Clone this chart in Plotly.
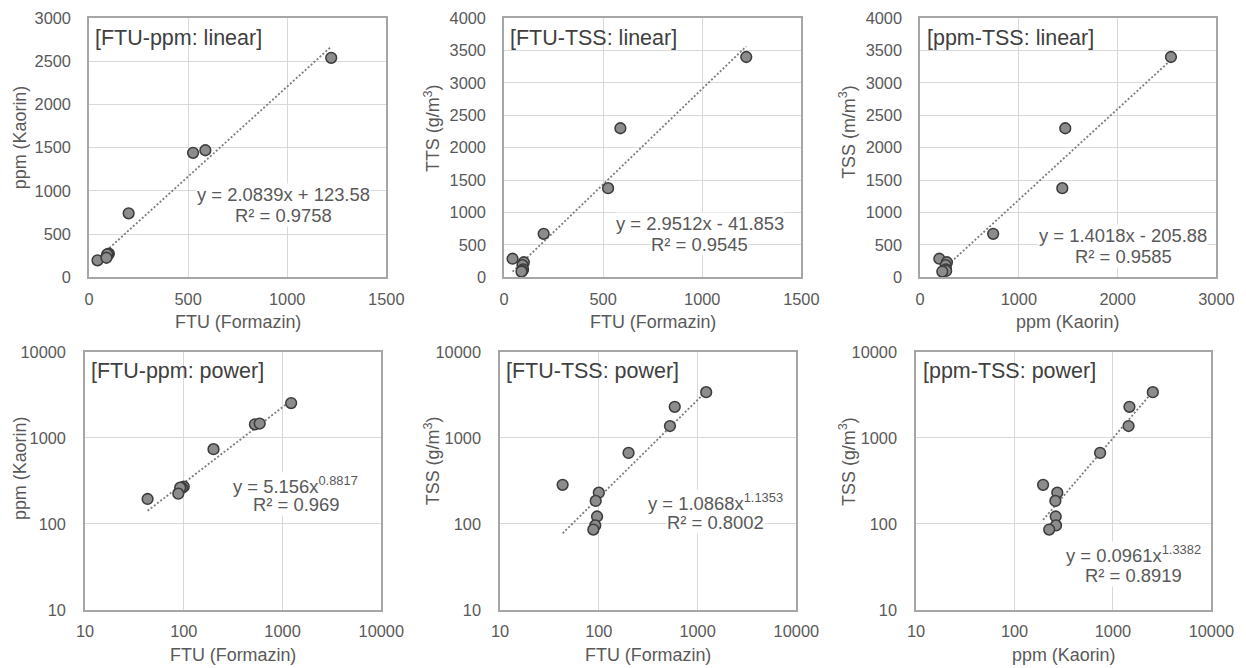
import plotly.graph_objects as go
from plotly.subplots import make_subplots

# ---- data ----
ftu = [43, 100, 93, 96, 92, 88, 200, 525, 587, 1222]
ppm = [195, 272, 260, 262, 264, 225, 740, 1440, 1470, 2540]
tss = [285, 231, 185, 122, 96, 86, 670, 1375, 2300, 3400]

panel_titles = ["[FTU-ppm: linear]", "[FTU-TSS: linear]", "[ppm-TSS: linear]",
                "[FTU-ppm: power]", "[FTU-TSS: power]", "[ppm-TSS: power]"]
x_titles = ["FTU (Formazin)", "FTU (Formazin)", "ppm (Kaorin)",
            "FTU (Formazin)", "FTU (Formazin)", "ppm (Kaorin)"]
y_titles = ["ppm (Kaorin)", "TTS (g/m<sup>3</sup>)", "TSS (m/m<sup>3</sup>)",
            "ppm (Kaorin)", "TSS (g/m<sup>3</sup>)", "TSS (g/m<sup>3</sup>)"]

lin_slope = [2.0839, 2.9512, 1.4018]
lin_icpt = [123.58, -41.853, -205.88]
lin_r2 = ["0.9758", "0.9545", "0.9585"]
pow_a = [5.156, 1.0868, 0.0961]
pow_b = [0.8817, 1.1353, 1.3382]
pow_r2 = ["0.969", "0.8002", "0.8919"]

lin_xmax = [1500, 1500, 3000]
lin_ymax = [3000, 4000, 4000]
lin_xdtick = [500, 500, 1000]
log_ticks = [10, 100, 1000, 10000]

pairs = [(ftu, ppm), (ftu, tss), (ppm, tss)]

# ---- layout geometry ----
# target plot-area boxes in screen px (left, right, top, bottom)
S, OFF = 0.977, 8.0
W = int(round(1246 / S - OFF))
H = int(round(668 / S - OFF))
boxes = [(88, 386, 17, 277), (504, 802, 17, 277), (921, 1218, 17, 277),
         (84, 381, 352, 611), (500, 797, 352, 611), (917, 1213, 352, 611)]


def fx(px):
    return (px / S - OFF) / W


def fy(py):
    return 1 - (py / S - OFF) / H


xdom = [[fx(b[0]), fx(b[1])] for b in boxes]
ydom = [[fy(b[3]), fy(b[2])] for b in boxes]

eq_pos = [(0.654, 0.318, 0.238), (0.659, 0.206, 0.126), (0.686, 0.1615, 0.081),
          (0.712, 0.486, 0.409), (0.727, 0.418, 0.339), (0.736, 0.216, 0.135)]
ytitle_pos = [(-0.234, 0.542), (-0.243, 0.575), (-0.245, 0.563),
              (-0.221, 0.548), (-0.23, 0.58), (-0.232, 0.576)]

K = 1 / S
FONT = "Liberation Sans, Arial, sans-serif"
TXT = "#595959"

fig = make_subplots(rows=2, cols=3)

for i in range(6):
    r, c = i // 3 + 1, i % 3 + 1
    k = i % 3
    xs, ys = pairs[k]
    tx = [min(xs), max(xs)]
    if i < 3:
        ty = [lin_slope[k] * v + lin_icpt[k] for v in tx]
    else:
        ty = [pow_a[k] * v ** pow_b[k] for v in tx]
    fig.add_trace(go.Scatter(x=tx, y=ty, mode="lines",
                             line=dict(color="#7f7f7f", width=1.8 * K, dash="2px,2px"),
                             showlegend=False, hoverinfo="skip"), row=r, col=c)
    fig.add_trace(go.Scatter(x=xs, y=ys, mode="markers",
                             marker=dict(size=10.5 * K, color="#8c8c8c",
                                         line=dict(color="#3c3c3c", width=1.5 * K)),
                             showlegend=False), row=r, col=c)

axis_common = dict(showgrid=True, gridcolor="#d9d9d9", gridwidth=1,
                   showline=True, linecolor="#a6a6a6", linewidth=1.5 * K, mirror=True,
                   ticks="", zeroline=False,
                   tickfont=dict(size=16 * K, color=TXT, family=FONT))

for i in range(6):
    r, c = i // 3 + 1, i % 3 + 1
    k = i % 3
    if i < 3:
        fig.update_xaxes(range=[0, lin_xmax[k]], dtick=lin_xdtick[k], tick0=0,
                         domain=xdom[i], ticklabelstandoff=6, **axis_common, row=r, col=c)
        fig.update_yaxes(range=[0, lin_ymax[k]], dtick=500, tick0=0,
                         domain=ydom[i], ticklabelstandoff=13, **axis_common, row=r, col=c)
    else:
        fig.update_xaxes(type="log", range=[1, 4], tickvals=log_ticks,
                         ticktext=[str(v) for v in log_ticks],
                         domain=xdom[i], ticklabelstandoff=6, **axis_common, row=r, col=c)
        fig.update_yaxes(type="log", range=[1, 4], tickvals=log_ticks,
                         ticktext=[str(v) for v in log_ticks],
                         domain=ydom[i], ticklabelstandoff=14, **axis_common, row=r, col=c)

annotations = []
for i in range(6):
    k = i % 3
    xr = "x domain" if i == 0 else f"x{i+1} domain"
    yr = "y domain" if i == 0 else f"y{i+1} domain"
    annotations.append(dict(xref=xr, yref=yr, x=0.015, y=0.925, xanchor="left", yanchor="middle",
                            text=panel_titles[i], showarrow=False,
                            font=dict(size=21 * K, color="#404040", family=FONT)))
    if i < 3:
        sign = "+" if lin_icpt[k] >= 0 else "-"
        eq = f"y = {lin_slope[k]}x {sign} {abs(lin_icpt[k])}"
        r2 = f"R² = {lin_r2[k]}"
    else:
        eq = f"y = {pow_a[k]}x<sup>{pow_b[k]}</sup>"
        r2 = f"R² = {pow_r2[k]}"
    ex, ey1, ey2 = eq_pos[i]
    annotations.append(dict(xref=xr, yref=yr, x=ex, y=ey1, xanchor="center", yanchor="middle",
                            text=eq, showarrow=False, bgcolor="white", borderpad=0,
                            font=dict(size=18 * K, color=TXT, family=FONT)))
    annotations.append(dict(xref=xr, yref=yr, x=ex, y=ey2, xanchor="center", yanchor="middle",
                            text=r2, showarrow=False, bgcolor="white", borderpad=0,
                            font=dict(size=18 * K, color=TXT, family=FONT)))
    annotations.append(dict(xref=xr, yref=yr, x=0.5, y=-0.173, xanchor="center", yanchor="middle",
                            text=x_titles[i], showarrow=False,
                            font=dict(size=17.5 * K, color=TXT, family=FONT)))
    tx_, ty_ = ytitle_pos[i]
    annotations.append(dict(xref=xr, yref=yr, x=tx_, y=ty_, xanchor="center", yanchor="middle",
                            text=y_titles[i], showarrow=False, textangle=-90,
                            font=dict(size=17.5 * K, color=TXT, family=FONT)))

fig.update_layout(width=W, height=H, margin=dict(l=0, r=0, t=0, b=0),
                  paper_bgcolor="white", plot_bgcolor="white",
                  font=dict(family=FONT, color=TXT),
                  annotations=annotations, showlegend=False)

fig.write_html("out.html")
